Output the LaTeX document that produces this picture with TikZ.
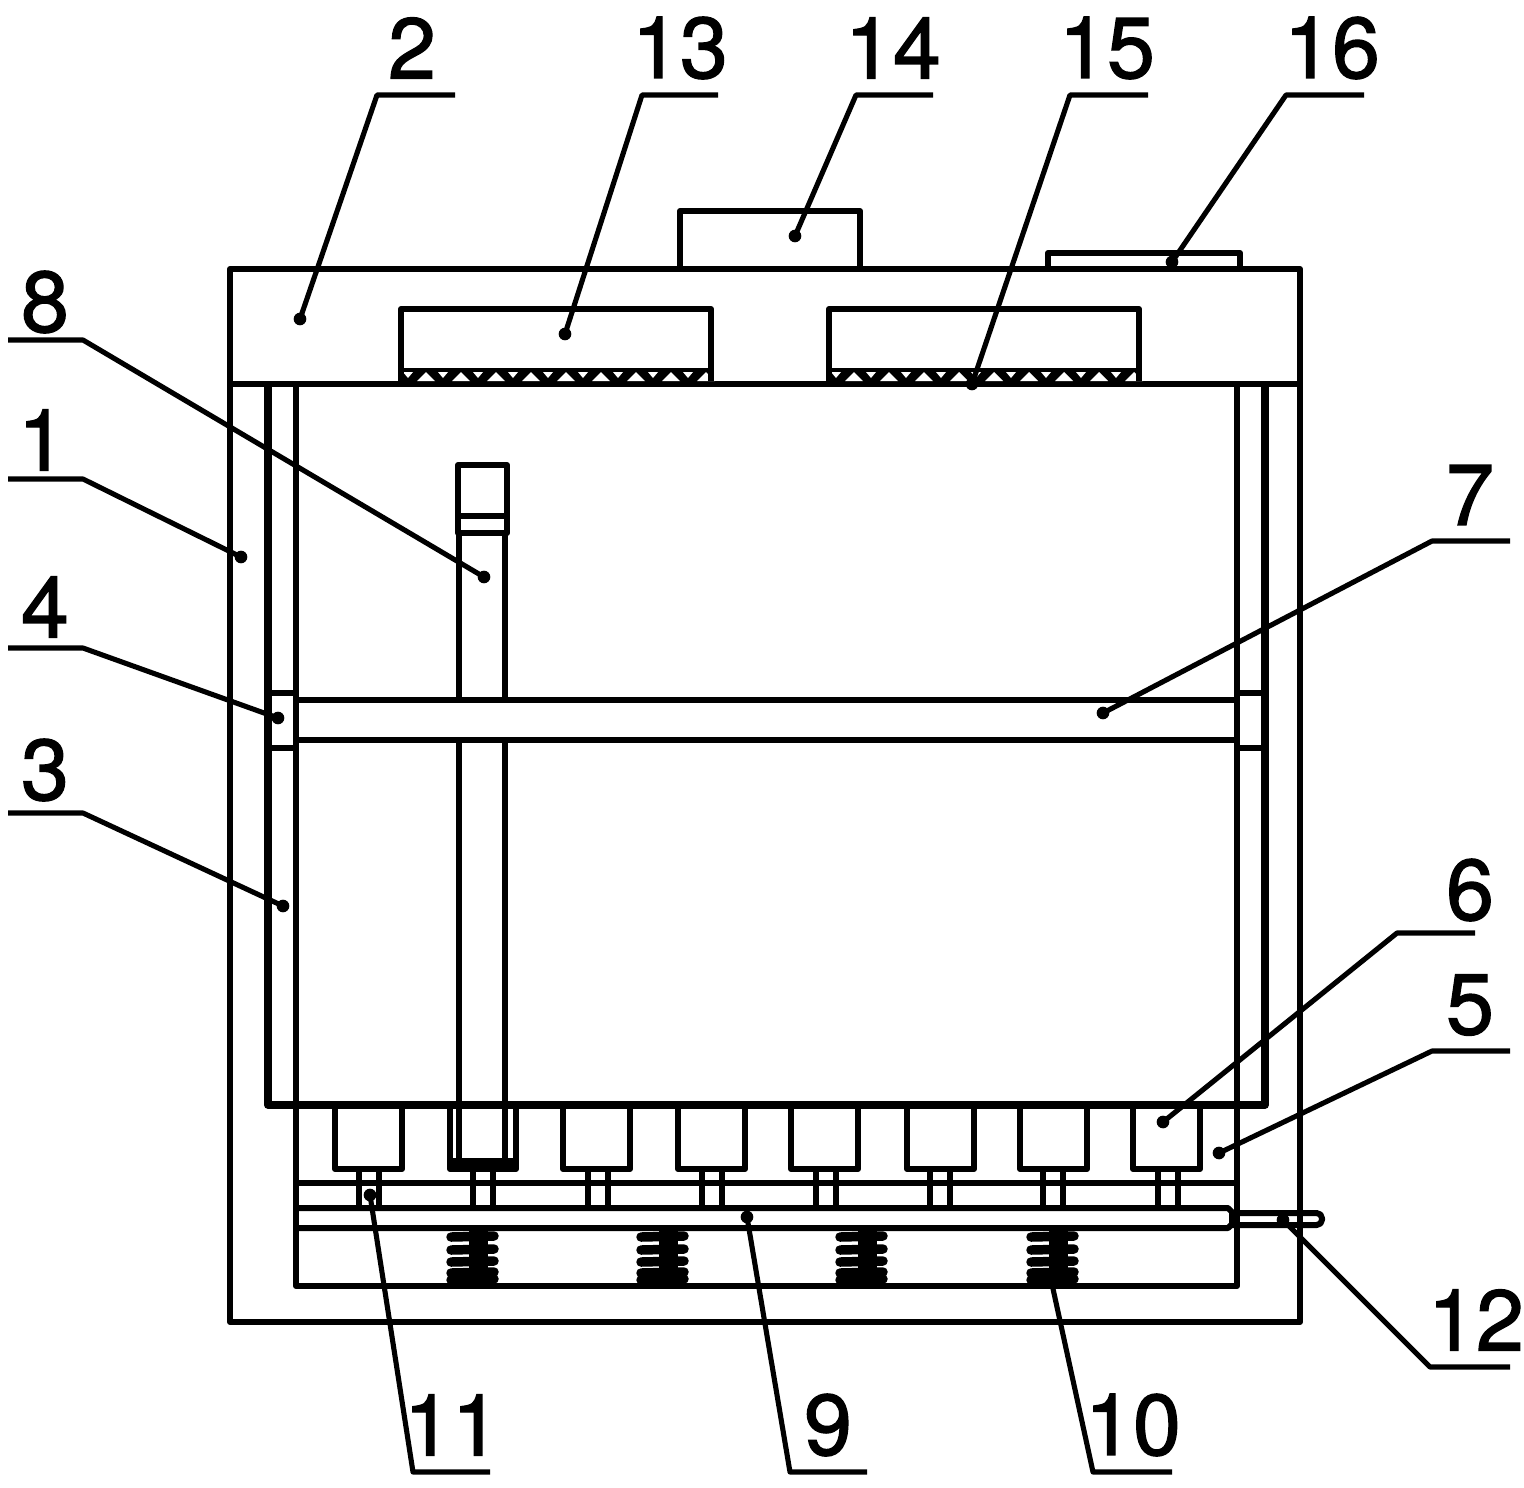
\documentclass[tikz,border=0pt]{standalone}
\usepackage{fontspec}
\setmainfont[FakeBold=1.5]{TeX Gyre Heros}
\tikzset{
	part/.style={line width=1.7pt, line join=round},
	leader/.style={line width=1.45pt, line join=round},
	tag/.style={inner sep=0pt, font=\fontsize{24.5}{24.5}\selectfont},
	blob/.style={circle, fill=black, inner sep=0pt, minimum size=3.6pt},
}
\begin{document}
\begin{tikzpicture}[x=0.01cm, y=-0.01cm]
\useasboundingbox (0,0) rectangle (1524,1487);

% body and top cover
\draw[part] (230,269) rectangle (1300,1322);
\draw[part] (230,384) -- (1300,384);
\draw[part] (680,269) -- (680,211) -- (860,211) -- (860,269);
\draw[part] (1048,269) -- (1048,253) -- (1240,253) -- (1240,269);
\foreach \x in {401,829} {
	\fill (\x,368) rectangle +(310,14);
	\foreach \k in {0,...,8}
		\fill[white] (\x+16+35*\k,381) -- +(9,-9) -- +(18,0) -- cycle;
	\foreach \k in {0,...,8}
		\fill[white] (\x+2+35*\k,372) -- +(5,6) -- +(10,0) -- cycle;
	\draw[part] (\x,381) -- (\x,309) -- (\x+310,309) -- (\x+310,381);
}

% rails and bar
\draw[line width=2.2pt, line join=round] (268,384) -- (268,1105) -- (1265,1105) -- (1265,384);
\draw[part] (296,384) -- (296,1286) -- (1237,1286) -- (1237,384);
\foreach \x in {268,1237} {
	\draw[part] (\x,693) -- +(28,0);
	\draw[part] (\x,748) -- +(28,0);
}
\draw[part] (296,700) -- (1237,700);
\draw[part] (296,740) -- (1237,740);

% upright
\draw[part] (459,533) -- (459,700);
\draw[part] (505,533) -- (505,700);
\draw[part] (459,740) -- (459,1160);
\draw[part] (505,740) -- (505,1160);
\draw[part] (458,465) rectangle (507,533);
\draw[part] (458,516) -- (507,516);

% feet
\foreach \x in {335,563,678,791,907,1020,1133}
	\draw[part] (\x,1105) -- (\x,1169) -- (\x+67,1169) -- (\x+67,1105);
\draw[part] (450,1105) -- (450,1169) -- (516,1169) -- (516,1105);
\fill (450,1158) rectangle (516,1170);
\foreach \x in {359,473,588,702,816,930,1043,1158} {
	\draw[part] (\x,1169) -- (\x,1208);
	\draw[part] (\x+20,1169) -- (\x+20,1208);
}

% plate, rod, springs
\draw[part] (296,1183) -- (1237,1183);
\draw[part] (296,1208) -- (1228,1208) -- (1232,1212) -- (1232,1224) -- (1228,1228) -- (296,1228);
\draw[part, rounded corners=1.5pt] (1232,1213) -- (1322,1213) -- (1322,1225) -- (1232,1225);
\foreach \sx in {473,663,862,1053} {
	\fill (\sx-4,1228) rectangle (\sx+15,1286);
	\foreach \sy in {1237,1250,1262,1273,1280}
		\draw[line width=2.7pt, line cap=round] (\sx-22,\sy) -- (\sx+21,\sy-1);
}

% labels with leaders
\foreach \n/\dx/\dy/\ex/\ey/\fx/\tx/\ty in {
	2/300/319/377/95/455/412/48,
	13/565/334/642/95/718/680/48,
	14/795/236/856/95/933/893/48,
	15/972/384/1070/95/1148/1107/48,
	16/1172/262/1286/95/1364/1332/48,
	8/484/577/83/340/8/45/302,
	1/241/557/83/479/8/42/440,
	4/278/718/83/648/8/45/607,
	3/283/906/83/813/8/45/770,
	7/1103/713/1432/541/1510/1470/495,
	6/1163/1122/1397/933/1475/1470/890,
	5/1219/1153/1432/1051/1510/1470/1005,
	12/1283/1220/1430/1367/1510/1476/1320,
	10/1050/1275/1093/1472/1172/1133/1425,
	9/747/1217/790/1472/867/828/1425,
	11/370/1195/413/1472/490/452/1425} {
	\node[blob] (dot\n) at (\dx,\dy) {};
	\coordinate (elbow\n) at (\ex,\ey);
	\coordinate (end\n) at (\fx,\ey);
	\node[tag] (label\n) at (\tx,\ty) {\n};
	\draw[leader] (dot\n.center) -- (elbow\n) -- (end\n);
}
\end{tikzpicture}
\end{document}
